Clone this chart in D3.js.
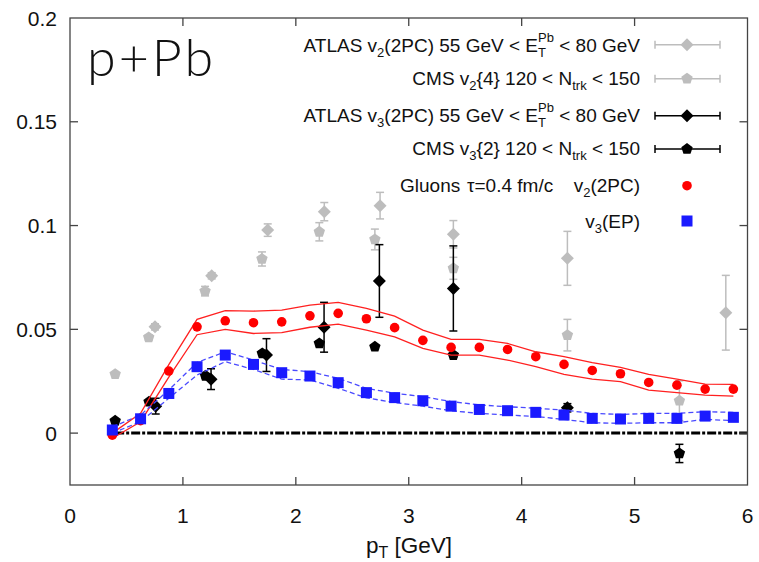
<!DOCTYPE html>
<html><head><meta charset="utf-8">
<script src="https://cdn.jsdelivr.net/npm/d3@7"></script>
<style>body{margin:0;background:#fff} svg{display:block}</style>
</head><body><svg id="c" width="759" height="562"></svg>
<script>
// ---------- data ----------
const xTicks = [0, 1, 2, 3, 4, 5, 6];
const yTicks = [0, 0.05, 0.1, 0.15, 0.2];
const yTickLabels = ["0", "0.05", "0.1", "0.15", "0.2"];

// Theory: Gluons tau=0.4 fm/c
const thPt = [0.375,0.625,0.875,1.125,1.375,1.625,1.875,2.125,2.375,2.625,2.875,3.125,3.375,3.625,3.875,4.125,4.375,4.625,4.875,5.125,5.375,5.625,5.875];
const thV2 = [-0.001,0.006,0.0299,0.0512,0.0541,0.0532,0.0536,0.0565,0.0577,0.0551,0.0508,0.0447,0.0413,0.0413,0.0403,0.0368,0.0331,0.0302,0.0286,0.0244,0.0231,0.0212,0.0212];
const thV2Hi = [0.000,0.0095,0.033,0.0548,0.059,0.0588,0.0593,0.0617,0.063,0.0601,0.0564,0.0496,0.0452,0.0452,0.0432,0.0392,0.0368,0.034,0.0317,0.0283,0.026,0.0236,0.0235];
const thV2Lo = [-0.0025,0.0055,0.027,0.0474,0.050,0.048,0.0484,0.051,0.0525,0.0496,0.0464,0.0408,0.0376,0.0376,0.0352,0.032,0.0283,0.026,0.0248,0.0207,0.0195,0.0183,0.0178];
const thV3 = [0.0015,0.0069,0.0191,0.032,0.0376,0.0331,0.0291,0.0275,0.0243,0.0195,0.0171,0.0156,0.013,0.0114,0.0108,0.010,0.0087,0.0071,0.0068,0.0071,0.0071,0.0082,0.0076];
const thV3Hi = [0.003,0.0087,0.0208,0.034,0.0392,0.0352,0.0307,0.0296,0.0264,0.0216,0.0192,0.0176,0.0152,0.0136,0.0127,0.012,0.0111,0.0095,0.009,0.0095,0.0095,0.0103,0.010];
const thV3Lo = [0.0,0.0055,0.0168,0.028,0.0344,0.0307,0.026,0.0256,0.0216,0.017,0.0147,0.013,0.0108,0.0095,0.0087,0.008,0.0066,0.005,0.0047,0.005,0.005,0.0066,0.006];

// ATLAS v2(2PC)
const atlasV2Pt = [0.753,1.255,1.751,2.252,2.746,3.395,4.405,5.808];
const atlasV2 = [0.0512,0.0758,0.0978,0.1067,0.1096,0.0958,0.0842,0.058];
const atlasV2Err = [0.0015,0.0015,0.003,0.0044,0.0064,0.0066,0.013,0.018];
// CMS v2{4}
const cmsV2Pt = [0.40,0.697,1.196,1.70,2.208,2.70,3.395,4.405,5.397];
const cmsV2 = [0.0284,0.0461,0.0684,0.0839,0.097,0.0933,0.0794,0.0472,0.0156];
const cmsV2Err = [0.001,0.0012,0.0023,0.0034,0.0044,0.005,0.0053,0.0076,0.0096];
// ATLAS v3(2PC)
const atlasV3Pt = [0.759,1.249,1.74,2.25,2.74,3.395,4.405];
const atlasV3 = [0.013,0.026,0.0376,0.051,0.0733,0.0697,0.0122];
const atlasV3Err = [0.0038,0.005,0.0079,0.012,0.0175,0.0205,0.002];
// CMS v3{2}
const cmsV3Pt = [0.40,0.70,1.20,1.703,2.208,2.70,3.395,5.397];
const cmsV3 = [0.0059,0.0151,0.0276,0.0384,0.0432,0.0416,0.0376,-0.0098];
const cmsV3Err = [0.0005,0.0005,0.001,0.001,0.001,0.001,0.001,0.0044];

// ---------- setup ----------
const svg = d3.select("#c");
const L = 70, R = 747.5, T = 18, B = 485;
const x = d3.scaleLinear().domain([0, 6]).range([L, R]);
const y = d3.scaleLinear().domain([-0.025, 0.2]).range([B, T]);
const FONT = "'Liberation Sans', Arial, Helvetica, sans-serif";
const GRAY = "#bdbdbd";

function diamondPath(r){ return `M0,${-r}L${r},0L0,${r}L${-r},0Z`; }
function pentagonPath(r){
  const pts = d3.range(5).map(k => { const a = -Math.PI/2 + k*2*Math.PI/5; return [r*Math.cos(a), r*Math.sin(a)]; });
  return "M" + pts.map(p => p.join(",")).join("L") + "Z";
}

// zero line
svg.append("line").attr("x1", x(0.4)).attr("x2", x(6)).attr("y1", y(0)).attr("y2", y(0))
  .attr("stroke", "#000").attr("stroke-width", 3).attr("stroke-dasharray", "9,2,3,2");

// experimental data
function expSeries(pts, vals, errs, color, shape, r){
  const g = svg.append("g");
  const d = pts.map((p, i) => ({p, v: vals[i], e: errs[i]}));
  g.selectAll("line.eb").data(d).join("line")
    .attr("x1", q => x(q.p)).attr("x2", q => x(q.p))
    .attr("y1", q => y(q.v - q.e)).attr("y2", q => y(q.v + q.e))
    .attr("stroke", color).attr("stroke-width", 1.5);
  [-1, 1].forEach(s => {
    g.selectAll("line.cap" + s).data(d).join("line")
      .attr("x1", q => x(q.p) - 4).attr("x2", q => x(q.p) + 4)
      .attr("y1", q => y(q.v + s*q.e)).attr("y2", q => y(q.v + s*q.e))
      .attr("stroke", color).attr("stroke-width", 1.5);
  });
  g.selectAll("path").data(d).join("path")
    .attr("d", shape(r)).attr("transform", q => `translate(${x(q.p)},${y(q.v)})`)
    .attr("fill", color);
}
expSeries(cmsV2Pt, cmsV2, cmsV2Err, GRAY, pentagonPath, 6);
expSeries(atlasV2Pt, atlasV2, atlasV2Err, GRAY, diamondPath, 6.5);
expSeries(cmsV3Pt, cmsV3, cmsV3Err, "#000", pentagonPath, 6);
expSeries(atlasV3Pt, atlasV3, atlasV3Err, "#000", diamondPath, 6.5);

// theory bands
const line = d3.line().x(d => x(d[0])).y(d => y(d[1]));
[thV2Hi, thV2Lo].forEach(arr => {
  svg.append("path").attr("d", line(thPt.map((p, i) => [p, arr[i]])))
    .attr("fill", "none").attr("stroke", "#ff2020").attr("stroke-width", 1.3);
});
[thV3Hi, thV3Lo].forEach(arr => {
  svg.append("path").attr("d", line(thPt.map((p, i) => [p, arr[i]])))
    .attr("fill", "none").attr("stroke", "#4a4aff").attr("stroke-width", 1.3)
    .attr("stroke-dasharray", "5,3");
});
// theory points
svg.append("g").selectAll("circle").data(thPt.map((p, i) => [p, thV2[i]])).join("circle")
  .attr("cx", d => x(d[0])).attr("cy", d => y(d[1])).attr("r", 4.8).attr("fill", "#ff0000");
svg.append("g").selectAll("rect").data(thPt.map((p, i) => [p, thV3[i]])).join("rect")
  .attr("x", d => x(d[0]) - 5.5).attr("y", d => y(d[1]) - 5.5).attr("width", 11).attr("height", 11)
  .attr("fill", "#1a1aff");

// ---------- frame & axes ----------
const ax = svg.append("g").attr("stroke", "#444").attr("stroke-width", 1.3);
ax.append("rect").attr("x", L).attr("y", T).attr("width", R - L).attr("height", B - T).attr("fill", "none");
const tl = 8;
xTicks.slice(1, -1).forEach(t => {
  ax.append("line").attr("x1", x(t)).attr("x2", x(t)).attr("y1", B).attr("y2", B - tl);
  ax.append("line").attr("x1", x(t)).attr("x2", x(t)).attr("y1", T).attr("y2", T + tl);
});
yTicks.slice(0, -1).forEach(t => {
  ax.append("line").attr("x1", L).attr("x2", L + tl).attr("y1", y(t)).attr("y2", y(t));
  ax.append("line").attr("x1", R).attr("x2", R - tl).attr("y1", y(t)).attr("y2", y(t));
});
svg.append("g").selectAll("text").data(xTicks).join("text")
  .attr("x", d => x(d)).attr("y", 523).attr("text-anchor", "middle")
  .attr("font-family", FONT).attr("font-size", 21).attr("fill", "#111").text(d => d);
svg.append("g").selectAll("text").data(yTicks).join("text")
  .attr("x", 57).attr("y", d => y(d) + 7.5).attr("text-anchor", "end")
  .attr("font-family", FONT).attr("font-size", 21).attr("fill", "#111").text((d, i) => yTickLabels[i]);

// axis title
const xt = svg.append("text").attr("x", 409).attr("y", 553).attr("text-anchor", "middle")
  .attr("font-family", FONT).attr("font-size", 22.5).attr("fill", "#111");
xt.append("tspan").text("p");
xt.append("tspan").attr("font-size", 16).attr("dy", 5).text("T");
xt.append("tspan").attr("dy", -5).text(" [GeV]");

// p+Pb
svg.append("text").attr("x", 87).attr("y", 76).attr("font-family", "Lato, 'Open Sans', sans-serif")
  .attr("font-weight", 300).attr("font-size", 52).attr("letter-spacing", 3).attr("fill", "#111").text("p+Pb");

// ---------- legend ----------
const LFS = 19, SFS = 13;
function richText(parts, right, base){
  const g = svg.append("g");
  let cx = 0, subStart = 0, subW = 0;
  parts.forEach(pt => {
    const [t, kind] = pt;
    let dy = 0, fs = LFS, startX = cx;
    if (kind === "sub") { dy = 5; fs = SFS; subStart = cx; }
    if (kind === "sup") { dy = -10; fs = SFS; startX = subStart; }
    const el = g.append("text").attr("x", startX).attr("y", base + dy)
      .attr("font-family", FONT).attr("font-size", fs).attr("fill", "#111")
      .attr("xml:space", "preserve").text(t);
    const w = el.node().getComputedTextLength();
    if (kind === "sub") { subW = w; cx = startX + w; }
    else if (kind === "sup") { cx = subStart + Math.max(subW, w); }
    else cx = startX + w;
  });
  g.attr("transform", `translate(${right - cx},0)`);
}
const legRows = [
  {parts: [["ATLAS v"],["2","sub"],["(2PC) 55 GeV < E"],["T","sub"],["Pb","sup"],[" < 80 GeV"]], base: 51.5, cy: 44.7, color: GRAY, shape: diamondPath, r: 6.5, bar: true},
  {parts: [["CMS v"],["2","sub"],["{4} 120 < N"],["trk","sub"],[" < 150"]], base: 85, cy: 78.7, color: GRAY, shape: pentagonPath, r: 6, bar: true},
  {parts: [["ATLAS v"],["3","sub"],["(2PC) 55 GeV < E"],["T","sub"],["Pb","sup"],[" < 80 GeV"]], base: 121.7, cy: 115.7, color: "#000", shape: diamondPath, r: 6.5, bar: true},
  {parts: [["CMS v"],["3","sub"],["{2} 120 < N"],["trk","sub"],[" < 150"]], base: 155, cy: 149, color: "#000", shape: pentagonPath, r: 6, bar: true},
  {parts: [["v"],["2","sub"],["(2PC)"]], base: 191.7, cy: 185.7, circle: true},
  {parts: [["v"],["3","sub"],["(EP)"]], base: 228, cy: 221, square: true}
];
const LR = 640, LX = 687, LB1 = 655, LB2 = 720;
legRows.forEach(row => {
  richText(row.parts, LR, row.base);
  if (row.bar) {
    svg.append("line").attr("x1", LB1).attr("x2", LB2).attr("y1", row.cy).attr("y2", row.cy)
      .attr("stroke", row.color).attr("stroke-width", 1.5);
    [LB1, LB2].forEach(xx => svg.append("line").attr("x1", xx).attr("x2", xx)
      .attr("y1", row.cy - 4).attr("y2", row.cy + 4).attr("stroke", row.color).attr("stroke-width", 1.5));
    svg.append("path").attr("d", row.shape(row.r)).attr("transform", `translate(${LX},${row.cy})`).attr("fill", row.color);
  }
  if (row.circle) svg.append("circle").attr("cx", LX).attr("cy", row.cy).attr("r", 4.8).attr("fill", "#ff0000");
  if (row.square) svg.append("rect").attr("x", LX - 5.5).attr("y", row.cy - 5.5).attr("width", 11).attr("height", 11).attr("fill", "#1a1aff");
});
// Gluons label pieces
svg.append("text").attr("x", 400).attr("y", 191.7).attr("font-family", FONT).attr("font-size", LFS)
  .attr("fill", "#111").text("Gluons");
svg.append("text").attr("x", 467).attr("y", 191.7).attr("font-family", FONT).attr("font-size", LFS)
  .attr("fill", "#111").text("τ=0.4 fm/c");
</script></body></html>
